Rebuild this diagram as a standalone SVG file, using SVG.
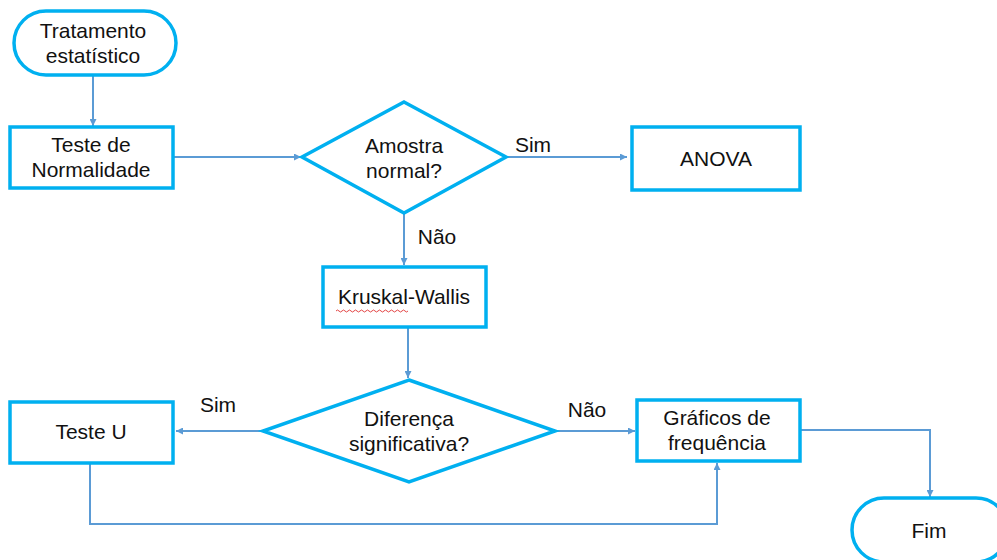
<svg xmlns="http://www.w3.org/2000/svg" width="997" height="560" viewBox="0 0 997 560">
<defs>
<marker id="arr" viewBox="0 0 10 10" refX="10" refY="5" markerWidth="9" markerHeight="7" markerUnits="userSpaceOnUse" orient="auto">
<path d="M0,0 L10,5 L0,10 z" fill="#5B9BD5"/>
</marker>
<style>
.n{fill:#fff;stroke:#00B0F0;stroke-width:3.5}
.t{font-family:"Liberation Sans",Arial,sans-serif;font-size:21px;fill:#111;text-anchor:middle}
.c{fill:none;stroke:#5B9BD5;stroke-width:2;marker-end:url(#arr)}
</style>
</defs>
<rect width="997" height="560" fill="#fff"/>
<g id="connectors">
<path class="c" d="M93,75 V126"/>
<path class="c" d="M173,157 H301"/>
<path class="c" d="M506,157 H627"/>
<path class="c" d="M404,213 V265"/>
<path class="c" d="M408,327 V378"/>
<path class="c" d="M263,431 H176"/>
<path class="c" d="M555,431 H635"/>
<path class="c" d="M90,463 V524 H717 V463"/>
<path class="c" d="M800,430 H930 V497"/>
</g>
<g id="labels">
<text class="t" x="533" y="152">Sim</text>
<text class="t" x="437" y="244">Não</text>
<text class="t" x="218" y="412">Sim</text>
<text class="t" x="587" y="417">Não</text>
</g>
<g id="start">
<rect class="n" x="14" y="11" width="162" height="64" rx="32"/>
<text class="t" x="93" y="38">Tratamento</text>
<text class="t" x="93" y="63">estatístico</text>
</g>
<g id="normalidade">
<rect class="n" x="10" y="127" width="163" height="61"/>
<text class="t" x="91" y="152">Teste de</text>
<text class="t" x="91" y="177">Normalidade</text>
</g>
<g id="amostra">
<polygon class="n" points="404,102 506,157 404,213 302,157"/>
<text class="t" x="404" y="153">Amostra</text>
<text class="t" x="404" y="178">normal?</text>
</g>
<g id="anova">
<rect class="n" x="632" y="127" width="168" height="63"/>
<text class="t" x="716" y="166">ANOVA</text>
</g>
<g id="kruskal">
<rect class="n" x="323" y="267" width="163" height="60"/>
<text class="t" x="404" y="304">Kruskal-Wallis</text>
<path d="M336,311 q1.5,-2 3,0 t3,0 t3,0 t3,0 t3,0 t3,0 t3,0 t3,0 t3,0 t3,0 t3,0 t3,0 t3,0 t3,0 t3,0 t3,0 t3,0 t3,0 t3,0 t3,0 t3,0 t3,0 t3,0 t3,0" fill="none" stroke="#E03030" stroke-width="0.9"/>
</g>
<g id="diferenca">
<polygon class="n" points="409,380 555,431 409,482 263,431"/>
<text class="t" x="409" y="426">Diferença</text>
<text class="t" x="409" y="451">significativa?</text>
</g>
<g id="testeu">
<rect class="n" x="10" y="402" width="163" height="61"/>
<text class="t" x="91" y="439">Teste U</text>
</g>
<g id="graficos">
<rect class="n" x="637" y="400" width="163" height="61"/>
<text class="t" x="717" y="425">Gráficos de</text>
<text class="t" x="717" y="450">frequência</text>
</g>
<g id="fim">
<rect class="n" x="852" y="498" width="156" height="64" rx="32"/>
<text class="t" x="929" y="538">Fim</text>
</g>
</svg>
